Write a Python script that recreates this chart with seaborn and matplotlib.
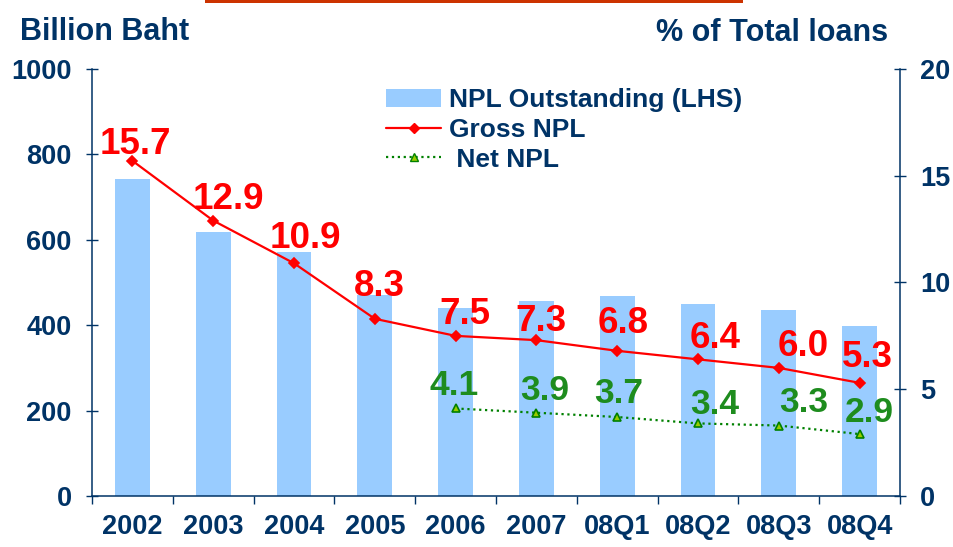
import numpy as np
import pandas as pd
import matplotlib
matplotlib.use("Agg")
import matplotlib.pyplot as plt
from matplotlib.patches import Patch, Rectangle
from matplotlib.lines import Line2D
import seaborn as sns

# ---------------- data ----------------
categories = ["2002", "2003", "2004", "2005", "2006", "2007", "08Q1", "08Q2", "08Q3", "08Q4"]
npl_outstanding = [742, 618, 571, 471, 440, 457, 468, 450, 436, 398]
gross_npl = [15.7, 12.9, 10.9, 8.3, 7.5, 7.3, 6.8, 6.4, 6.0, 5.3]
net_npl = [np.nan, np.nan, np.nan, np.nan, 4.1, 3.9, 3.7, 3.4, 3.3, 2.9]
left_ticks = [0, 200, 400, 600, 800, 1000]
right_ticks = [0, 5, 10, 15, 20]

# label offsets (pixels) for layout only
gross_dx = [3, 15, 11, 5, 9, 5, 6, 17, 24, 8]
gross_dy = [7, 12, 15, 23, 12, 9, 18, 11, 12, 16]
net_dx = [-1, 8, 1, 17, 25, 10]
net_dy = [13, 13, 14, 9, 14, 12]

NAVY = "#003366"
RED = "#FF0000"
GREEN = "#1E8C1E"
BAR = "#99CCFF"

sns.set_style("white")
plt.rcParams["font.family"] = ["Liberation Sans", "DejaVu Sans"]
plt.rcParams["font.weight"] = "bold"

W, H = 954, 547
fig = plt.figure(figsize=(W / 100, H / 100), dpi=100)
ax = fig.add_axes([92 / W, 1 - 496 / H, (900 - 92) / W, (496 - 69) / H])

df = pd.DataFrame({"cat": categories, "npl": npl_outstanding,
                   "gross": gross_npl, "net": net_npl})

sns.barplot(data=df, x="cat", y="npl", order=categories, color=BAR,
            saturation=1, width=0.43, edgecolor="none", ax=ax)
ax.set_ylim(0, 1000)
ax.set_yticks(left_ticks)

ax2 = ax.twinx()
sns.pointplot(data=df, x="cat", y="gross", order=categories, color=RED,
              markers="D", linestyles="-", markersize=5, linewidth=1.6,
              errorbar=None, ax=ax2)
sns.pointplot(data=df, x="cat", y="net", order=categories, color="#008000",
              markers="^", linestyles=":", markersize=6, linewidth=1.6,
              markerfacecolor="#99CC00", markeredgecolor="#008000",
              errorbar=None, ax=ax2)
ax2.set_ylim(0, 20)
ax2.set_yticks(right_ticks)
ax.set_xlim(-0.5, len(categories) - 0.5)

for a in (ax, ax2):
    a.set_xlabel("")
    a.set_ylabel("")
    a.grid(False)
    a.spines["top"].set_visible(False)

ax.spines["right"].set_visible(False)
for s in ("left", "bottom"):
    ax.spines[s].set_color(NAVY)
    ax.spines[s].set_linewidth(1.1)
for s in ("left", "bottom"):
    ax2.spines[s].set_visible(False)
ax2.spines["right"].set_color(NAVY)
ax2.spines["right"].set_linewidth(1.1)

# x ticks: labels at centers, marks at category boundaries
ax.set_xticks(range(len(categories)))
ax.set_xticklabels(categories)
ax.set_xticks(np.arange(-0.5, len(categories), 1.0), minor=True)
ax.tick_params(axis="x", which="major", length=0, pad=13, labelsize=19.5,
               labelcolor=NAVY)
ax.tick_params(axis="x", which="minor", direction="out", length=6,
               width=1, color=NAVY, bottom=True)
for lbl in ax.get_xticklabels():
    lbl.set_fontweight("bold")

ax.tick_params(axis="y", direction="inout", length=9, width=1, color=NAVY,
               labelsize=19.5, labelcolor=NAVY, pad=10, left=True)
ax2.tick_params(axis="y", direction="inout", length=9, width=1, color=NAVY,
                labelsize=19.5, labelcolor=NAVY, pad=10, right=True)
for lbl in ax.get_yticklabels() + ax2.get_yticklabels():
    lbl.set_fontweight("bold")

# data labels
for i, v in enumerate(gross_npl):
    ax2.annotate(f"{v:.1f}", (i, v), xytext=(gross_dx[i], gross_dy[i]),
                 textcoords="offset pixels", ha="center", va="baseline",
                 color=RED, fontsize=26.5, fontweight="bold")
k = 0
for i, v in enumerate(net_npl):
    if np.isnan(v):
        continue
    ax2.annotate(f"{v:.1f}", (i, v), xytext=(net_dx[k], net_dy[k]),
                 textcoords="offset pixels", ha="center", va="baseline",
                 color=GREEN, fontsize=25.5, fontweight="bold")
    k += 1

# legend
handles = [
    Patch(facecolor=BAR, edgecolor="none"),
    Line2D([], [], color=RED, lw=1.6, marker="D", markersize=5),
    Line2D([], [], color="#008000", lw=1.6, ls=":", marker="^", markersize=6,
           markerfacecolor="#99CC00", markeredgecolor="#008000"),
]
labels = ["NPL Outstanding (LHS)", "Gross NPL", " Net NPL"]
leg = ax2.legend(handles, labels, loc="upper left",
                 bbox_to_anchor=(386 / W, 1 - 88 / H),
                 bbox_transform=fig.transFigure, frameon=False,
                 borderpad=0, borderaxespad=0, handlelength=2.1,
                 handleheight=0.7, handletextpad=0.3, labelspacing=0.22,
                 prop={"size": 19, "weight": "bold"})
for t in leg.get_texts():
    t.set_color(NAVY)

# axis titles
fig.text(20 / W, 1 - 40 / H, "Billion Baht", ha="left", va="baseline",
         fontsize=22, fontweight="bold", color=NAVY)
fig.text(888 / W, 1 - 41 / H, "% of Total loans", ha="right", va="baseline",
         fontsize=22, fontweight="bold", color=NAVY)

# decorative top bar
fig.add_artist(Rectangle((205 / W, 1 - 3 / H), 538 / W, 3 / H,
                         transform=fig.transFigure, color="#CC3300", lw=0))

fig.savefig("out.png", dpi=100)
